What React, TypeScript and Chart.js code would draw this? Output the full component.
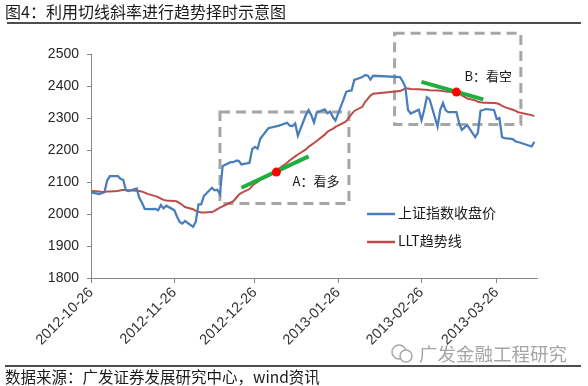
import React, { useEffect, useRef } from "react";
import { Chart, registerables } from "chart.js";

Chart.register(...registerables);

// ---------- data ----------
const startDate = "2012-10-26";
const endDate = "2013-04-10";

const tradeDates = [
  "2012-10-26", "2012-10-29", "2012-10-30", "2012-10-31",
  "2012-11-01", "2012-11-02", "2012-11-05", "2012-11-06", "2012-11-07", "2012-11-08", "2012-11-09",
  "2012-11-12", "2012-11-13", "2012-11-14", "2012-11-15", "2012-11-16", "2012-11-19", "2012-11-20",
  "2012-11-21", "2012-11-22", "2012-11-23", "2012-11-26", "2012-11-27", "2012-11-28", "2012-11-29", "2012-11-30",
  "2012-12-03", "2012-12-04", "2012-12-05", "2012-12-06", "2012-12-07", "2012-12-10", "2012-12-11",
  "2012-12-12", "2012-12-13", "2012-12-14", "2012-12-17", "2012-12-18", "2012-12-19", "2012-12-20",
  "2012-12-21", "2012-12-24", "2012-12-25", "2012-12-26", "2012-12-27", "2012-12-28", "2012-12-31",
  "2013-01-04", "2013-01-07", "2013-01-08", "2013-01-09", "2013-01-10", "2013-01-11", "2013-01-14",
  "2013-01-15", "2013-01-16", "2013-01-17", "2013-01-18", "2013-01-21", "2013-01-22", "2013-01-23",
  "2013-01-24", "2013-01-25", "2013-01-28", "2013-01-29", "2013-01-30", "2013-01-31",
  "2013-02-01", "2013-02-04", "2013-02-05", "2013-02-06", "2013-02-07", "2013-02-08", "2013-02-18",
  "2013-02-19", "2013-02-20", "2013-02-21", "2013-02-22", "2013-02-25", "2013-02-26", "2013-02-27", "2013-02-28",
  "2013-03-01", "2013-03-04", "2013-03-05", "2013-03-06", "2013-03-07", "2013-03-08", "2013-03-11",
  "2013-03-12", "2013-03-13", "2013-03-14", "2013-03-15", "2013-03-18", "2013-03-19", "2013-03-20",
  "2013-03-21", "2013-03-22", "2013-03-25", "2013-03-26", "2013-03-27", "2013-03-28", "2013-03-29",
  "2013-04-01", "2013-04-02", "2013-04-03", "2013-04-08", "2013-04-09",
];

const closePrices = [
  2068, 2062, 2065, 2068,
  2104, 2118, 2118, 2110, 2106, 2074, 2072, 2080, 2050, 2035, 2016, 2015, 2016, 2012, 2028, 2018, 2026, 2012, 1992, 1975, 1970, 1978,
  1960, 1976, 2030, 2030, 2056, 2082, 2074, 2076, 2062, 2150, 2162, 2162, 2167, 2166, 2155, 2160, 2203, 2210, 2204, 2235, 2268,
  2276, 2285, 2276, 2275, 2283, 2245, 2310, 2325, 2309, 2286, 2317, 2327, 2315, 2320, 2303, 2292, 2358, 2382, 2385, 2386,
  2419, 2428, 2434, 2433, 2420, 2432, 2428, 2415, 2397, 2325, 2314, 2326, 2293, 2325, 2365,
  2359, 2273, 2326, 2347, 2324, 2318, 2318, 2285, 2263, 2270, 2278, 2240, 2254, 2323, 2325, 2328, 2325, 2297, 2300, 2240, 2237,
  2234, 2227, 2225, 2211, 2226,
];

const lltValues = [
  2072, 2070, 2069, 2069,
  2070, 2070, 2072, 2074, 2075, 2075, 2074, 2073, 2072, 2070, 2067, 2063, 2056, 2053, 2048, 2044, 2042, 2041, 2039, 2034, 2028, 2022,
  2015, 2010, 2007, 2005, 2005, 2006, 2010, 2015, 2020, 2024, 2036, 2040, 2050, 2060, 2066, 2078, 2088, 2095, 2100, 2107, 2118,
  2142, 2160, 2168, 2174, 2180, 2186, 2202, 2210, 2216, 2222, 2228, 2248, 2257, 2262, 2266, 2272, 2285, 2290, 2302, 2312,
  2322, 2335, 2350, 2360, 2370, 2376, 2384, 2388, 2392, 2392, 2391, 2390, 2389, 2388, 2388,
  2387, 2386, 2385, 2384, 2383, 2382, 2380, 2376, 2371, 2366, 2361, 2355, 2351, 2349, 2348, 2348, 2347, 2346, 2343, 2338, 2334,
  2326, 2322, 2318, 2309, 2306,
];

const seriesNames = ["上证指数收盘价", "LLT趋势线"];
const xTickDates = ["2012-10-26", "2012-11-26", "2012-12-26", "2013-01-26", "2013-02-26", "2013-03-26"];
const yMin = 1800;
const yMax = 2500;
const yStep = 100;

// annotation anchors (data coordinates)
const boxA = { from: "2012-12-13", to: "2013-01-30", low: 2033, high: 2319 };
const boxB = { from: "2013-02-16", to: "2013-04-04", low: 2280, high: 2565 };
const tangentA = { from: "2012-12-21", fromValue: 2082, to: "2013-01-15", toValue: 2180, touch: "2013-01-03", touchValue: 2131 };
const tangentB = { from: "2013-02-26", fromValue: 2413, to: "2013-03-21", toValue: 2358, touch: "2013-03-11", touchValue: 2381 };
const labelA = { text: "A：看多", date: "2013-01-09", value: 2103 };
const labelB = { text: "B：看空", date: "2013-03-14", value: 2430 };

// ---------- helpers ----------
const dayMs = 86400000;
function toUTC(s: string) {
  const [y, m, d] = s.split("-").map(Number);
  return Date.UTC(y, m - 1, d);
}
function dayOffset(s: string) {
  return Math.round((toUTC(s) - toUTC(startDate)) / dayMs);
}

const BLUE = "#4A7EBB";
const RED = "#BE4B48";
const GREEN = "#1FAF3F";
const AXIS = "#868686";
const CJK = "'Noto Sans CJK SC', 'Noto Sans', sans-serif";

const overlayPlugin = {
  id: "overlay",
  beforeDatasetsDraw(chart: any) {
    const { ctx, scales } = chart;
    const x = scales.x, y = scales.y;
    ctx.save();
    ctx.strokeStyle = "#A6A6A6";
    ctx.lineWidth = 3;
    ctx.setLineDash([10, 6]);
    for (const b of [boxA, boxB]) {
      const x1 = x.getPixelForValue(dayOffset(b.from));
      const x2 = x.getPixelForValue(dayOffset(b.to));
      const y1 = y.getPixelForValue(b.high);
      const y2 = y.getPixelForValue(b.low);
      ctx.strokeRect(x1, y1, x2 - x1, y2 - y1);
    }
    ctx.restore();
  },
  afterDatasetsDraw(chart: any) {
    const { ctx, scales, chartArea } = chart;
    const x = scales.x, y = scales.y;
    ctx.save();
    for (const t of [tangentA, tangentB]) {
      ctx.strokeStyle = GREEN;
      ctx.lineWidth = 4;
      ctx.beginPath();
      ctx.moveTo(x.getPixelForValue(dayOffset(t.from)), y.getPixelForValue(t.fromValue));
      ctx.lineTo(x.getPixelForValue(dayOffset(t.to)), y.getPixelForValue(t.toValue));
      ctx.stroke();
    }
    for (const t of [tangentA, tangentB]) {
      ctx.fillStyle = "#FF0000";
      ctx.beginPath();
      ctx.arc(x.getPixelForValue(dayOffset(t.touch)), y.getPixelForValue(t.touchValue), 4.5, 0, Math.PI * 2);
      ctx.fill();
    }
    ctx.fillStyle = "#1a1a1a";
    ctx.font = `13px ${CJK}`;
    ctx.textAlign = "left";
    ctx.textBaseline = "middle";
    for (const l of [labelA, labelB]) {
      ctx.fillText(l.text, x.getPixelForValue(dayOffset(l.date)), y.getPixelForValue(l.value));
    }
    // legend
    const lx = chartArea.left + 276;
    const ly = chartArea.top + 160;
    chart.data.datasets.forEach((ds: any, i: number) => {
      const yy = ly + i * 28;
      ctx.strokeStyle = ds.borderColor;
      ctx.lineWidth = 2.5;
      ctx.beginPath();
      ctx.moveTo(lx, yy);
      ctx.lineTo(lx + 28, yy);
      ctx.stroke();
      ctx.fillStyle = "#1a1a1a";
      ctx.font = `14px ${CJK}`;
      ctx.fillText(ds.label, lx + 31, yy - 1);
    });
    ctx.restore();
  },
};

export default function App() {
  const ref = useRef<HTMLCanvasElement>(null);

  useEffect(() => {
    if (!ref.current) return;
    const xs = tradeDates.map(dayOffset);
    const tickDays = xTickDates.map(dayOffset);
    const chart = new Chart(ref.current, {
      type: "line",
      data: {
        datasets: [
          {
            label: seriesNames[0],
            data: xs.map((d, i) => ({ x: d, y: closePrices[i] })),
            borderColor: BLUE,
            borderWidth: 2.25,
            pointRadius: 0,
            tension: 0,
          },
          {
            label: seriesNames[1],
            data: xs.map((d, i) => ({ x: d, y: lltValues[i] })),
            borderColor: RED,
            borderWidth: 2,
            pointRadius: 0,
            tension: 0,
          },
        ],
      },
      options: {
        animation: false,
        responsive: false,
        layout: { padding: { top: 54, right: 51, left: 0, bottom: 0 } },
        plugins: { legend: { display: false }, tooltip: { enabled: false } },
        scales: {
          x: {
            type: "linear",
            min: 0,
            max: dayOffset(endDate),
            afterFit: (s: any) => { s.height = 108; },
            afterBuildTicks: (axis: any) => { axis.ticks = tickDays.map((v) => ({ value: v })); },
            grid: { display: true, drawOnChartArea: false, drawTicks: true, tickLength: 5, color: AXIS },
            border: { display: true, color: AXIS, width: 1 },
            ticks: {
              autoSkip: false,
              minRotation: 45,
              maxRotation: 45,
              padding: 1,
              color: "#333",
              font: { family: "'Liberation Sans', Arial, sans-serif", size: 14.5 },
              callback: (v: any) => {
                const i = tickDays.indexOf(v);
                return i >= 0 ? xTickDates[i] : "";
              },
            },
          },
          y: {
            min: yMin,
            max: yMax,
            afterFit: (s: any) => { s.width = 91; },
            grid: { display: true, drawOnChartArea: false, drawTicks: true, tickLength: 4, color: AXIS },
            border: { display: true, color: AXIS, width: 1 },
            ticks: {
              stepSize: yStep,
              padding: 8,
              color: "#262626",
              font: { family: "'Liberation Sans', Arial, sans-serif", size: 14 },
              callback: (v: any) => String(v),
            },
          },
        },
      },
      plugins: [overlayPlugin],
    });
    return () => chart.destroy();
  }, []);

  return (
    <div style={{ position: "absolute", left: 0, top: 0, width: 588, height: 386, background: "#fff", overflow: "hidden" }}>
      <canvas ref={ref} width={588} height={386} style={{ position: "absolute", left: 0, top: 0 }} />
      <div style={{ position: "absolute", left: 5, top: 1, fontSize: 16, lineHeight: "20px", fontFamily: CJK, color: "#1a1a1a", whiteSpace: "nowrap" }}>
        图4：利用切线斜率进行趋势择时示意图
      </div>
      <div style={{ position: "absolute", left: 7, top: 22, width: 574, height: 2, background: "#4d4d4d" }} />
      <div style={{ position: "absolute", left: 5, top: 365, width: 576, height: 2, background: "#4d4d4d" }} />
      <svg width="26" height="22" style={{ position: "absolute", left: 390, top: 343 }}>
        <circle cx="9" cy="9" r="7" fill="none" stroke="#a8a8a8" strokeWidth="1.5" />
        <circle cx="16" cy="13" r="6" fill="#fff" stroke="#a8a8a8" strokeWidth="1.5" />
      </svg>
      <div style={{ position: "absolute", left: 419, top: 341, fontSize: 18.5, lineHeight: "24px", fontFamily: CJK, color: "#a5a5a5", whiteSpace: "nowrap" }}>
        广发金融工程研究
      </div>
      <div style={{ position: "absolute", left: 5, top: 367, fontSize: 15.5, lineHeight: "19px", fontFamily: CJK, color: "#1a1a1a", whiteSpace: "nowrap" }}>
        数据来源：广发证券发展研究中心，wind资讯
      </div>
    </div>
  );
}
